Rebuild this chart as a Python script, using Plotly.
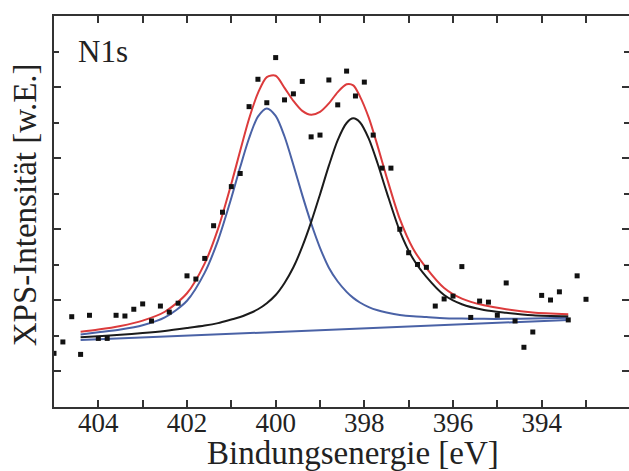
import plotly.graph_objects as go

# Measured N1s spectrum (binding energy in eV, intensity in arbitrary units)
energy_pts = [405.0, 404.8, 404.6, 404.4, 404.2, 404.0, 403.8, 403.6, 403.4, 403.2,
              403.0, 402.8, 402.6, 402.4, 402.2, 402.0, 401.8, 401.6, 401.4, 401.2,
              401.0, 400.8, 400.6, 400.4, 400.2, 400.0, 399.8, 399.6, 399.4, 399.2,
              399.0, 398.8, 398.6, 398.4, 398.2, 398.0, 397.8, 397.6, 397.4, 397.2,
              397.0, 396.8, 396.6, 396.4, 396.2, 396.0, 395.8, 395.6, 395.4, 395.2,
              395.0, 394.8, 394.6, 394.4, 394.2, 394.0, 393.8, 393.6, 393.4, 393.2,
              393.0]
intensity_pts = [1.51, 1.83, 2.54, 1.48, 2.58, 1.93, 1.93, 2.58, 2.56, 2.75,
                 2.90, 2.42, 2.84, 2.67, 2.92, 3.69, 3.60, 4.18, 5.10, 5.48,
                 6.20, 6.57, 8.45, 9.22, 8.56, 9.83, 8.64, 8.81, 9.16, 7.60,
                 7.65, 9.20, 8.50, 9.45, 8.75, 9.14, 7.65, 6.72, 6.72, 5.00,
                 4.34, 4.01, 3.93, 2.84, 3.04, 3.12, 3.95, 2.52, 2.98, 2.95,
                 2.58, 3.49, 2.42, 1.68, 2.11, 3.14, 3.01, 3.24, 2.45, 3.69,
                 3.03]

# Fit result: energies at which the fitted curves are tabulated
fit_energy = [404.4, 404.0, 403.5, 403.0, 402.5, 402.0, 401.6, 401.3, 401.0, 400.8,
              400.6, 400.4, 400.2, 400.0, 399.8, 399.6, 399.4, 399.2, 399.0, 398.8,
              398.6, 398.4, 398.25, 398.1, 397.9, 397.7, 397.5, 397.2, 396.9, 396.6,
              396.2, 395.8, 395.3, 394.8, 394.2, 393.4]
# Component at ~400.2 eV (including background)
peak_high = [2.04, 2.10, 2.18, 2.30, 2.52, 2.99, 3.78, 4.69, 5.88, 6.75,
             7.56, 8.17, 8.40, 8.19, 7.61, 6.81, 5.96, 5.17, 4.48, 3.92,
             3.53, 3.24, 3.07, 2.94, 2.81, 2.72, 2.66, 2.59, 2.55, 2.53,
             2.50, 2.49, 2.48, 2.48, 2.49, 2.51]
# Component at ~398.3 eV (including background)
peak_low = [1.96, 1.99, 2.03, 2.08, 2.14, 2.22, 2.29, 2.36, 2.46, 2.53,
            2.63, 2.75, 2.92, 3.15, 3.49, 3.93, 4.51, 5.20, 5.98, 6.79,
            7.51, 7.99, 8.12, 8.01, 7.55, 6.85, 6.06, 4.95, 4.17, 3.66,
            3.15, 2.89, 2.73, 2.65, 2.58, 2.55]
# Sum of both components
envelope = [2.12, 2.18, 2.28, 2.43, 2.68, 3.20, 4.04, 5.01, 6.28, 7.21,
            8.11, 8.83, 9.28, 9.32, 8.98, 8.61, 8.33, 8.22, 8.30, 8.54,
            8.86, 9.08, 9.05, 8.74, 8.14, 7.34, 6.48, 5.29, 4.45, 3.91,
            3.35, 3.05, 2.86, 2.75, 2.66, 2.61]
# Linear background
background_energy = [404.4, 393.4]
background_level = [1.885, 2.448]

x_tick_vals = [404, 402, 400, 398, 396, 394]
x_tick_text = ["404", "402", "400", "398", "396", "394"]
x_minor_vals = [405, 403, 401, 399, 397, 395, 393]
y_major_vals = [1, 3, 5, 7, 9]
y_minor_vals = [2, 4, 6, 8, 10]

SERIF = "Liberation Serif, Times New Roman, serif"
AXIS_C = "#333333"
TEXT_C = "#222222"
BLUE_C = "#4a62a6"
RED_C = "#dc3b3c"
BLACK_C = "#1b1b1b"

fig = go.Figure()
fig.add_trace(go.Scatter(x=background_energy, y=background_level, mode="lines",
                         line=dict(color=BLUE_C, width=2)))
fig.add_trace(go.Scatter(x=fit_energy, y=peak_high, mode="lines",
                         line=dict(color=BLUE_C, width=2, shape="spline", smoothing=0.8)))
fig.add_trace(go.Scatter(x=fit_energy, y=peak_low, mode="lines",
                         line=dict(color=BLACK_C, width=2, shape="spline", smoothing=0.8)))
fig.add_trace(go.Scatter(x=fit_energy, y=envelope, mode="lines",
                         line=dict(color=RED_C, width=2, shape="spline", smoothing=0.8)))
fig.add_trace(go.Scatter(x=energy_pts, y=intensity_pts, mode="markers", yaxis="y2",
                         marker=dict(symbol="square", size=5, color="#111111",
                                     line=dict(width=0))))

tick_common = dict(ticks="inside", tickcolor=AXIS_C, tickwidth=1.5,
                   showgrid=False, zeroline=False)

fig.update_layout(
    width=629, height=471,
    margin=dict(l=54, r=0, t=16, b=64),
    paper_bgcolor="white", plot_bgcolor="white",
    showlegend=False,
    xaxis=dict(range=[405, 392.03], tickmode="array", tickvals=x_tick_vals,
               ticktext=x_tick_text, ticklen=7, showline=True, linecolor=AXIS_C,
               linewidth=1.5, mirror="allticks", ticklabelstandoff=-9,
               tickfont=dict(family=SERIF, size=27, color=TEXT_C),
               minor=dict(tickmode="array", tickvals=x_minor_vals, ticks="inside",
                          ticklen=4, tickcolor=AXIS_C, tickwidth=1.5, showgrid=False),
               **tick_common),
    yaxis=dict(range=[0, 11], tickmode="array", tickvals=y_major_vals,
               showticklabels=False, ticklen=7, showline=True, linecolor=AXIS_C,
               linewidth=1.5,
               minor=dict(tickmode="array", tickvals=y_minor_vals, ticks="inside",
                          ticklen=5, tickcolor=AXIS_C, tickwidth=1.5, showgrid=False),
               **tick_common),
    yaxis2=dict(range=[0, 11], overlaying="y", side="right", anchor="x",
                tickmode="array", tickvals=y_major_vals, showticklabels=False,
                ticklen=7, showline=False,
                minor=dict(tickmode="array", tickvals=y_minor_vals, ticks="inside",
                           ticklen=5, tickcolor=AXIS_C, tickwidth=1.5, showgrid=False),
                **tick_common),
    annotations=[
        dict(text="N1s", xref="paper", yref="paper", x=0.038, y=0.958,
             xanchor="left", yanchor="top", showarrow=False,
             font=dict(family=SERIF, size=31, color=TEXT_C)),
        dict(text="Bindungsenergie [eV]", xref="paper", yref="paper", x=0.52, y=-0.066,
             xanchor="center", yanchor="top", showarrow=False,
             font=dict(family=SERIF, size=33, color=TEXT_C)),
        dict(text="XPS-Intensität [w.E.]", xref="paper", yref="paper", x=-0.049, y=0.518,
             xanchor="center", yanchor="middle", textangle=-90, showarrow=False,
             font=dict(family=SERIF, size=33, color=TEXT_C)),
    ],
)

fig.write_html("out.html")
